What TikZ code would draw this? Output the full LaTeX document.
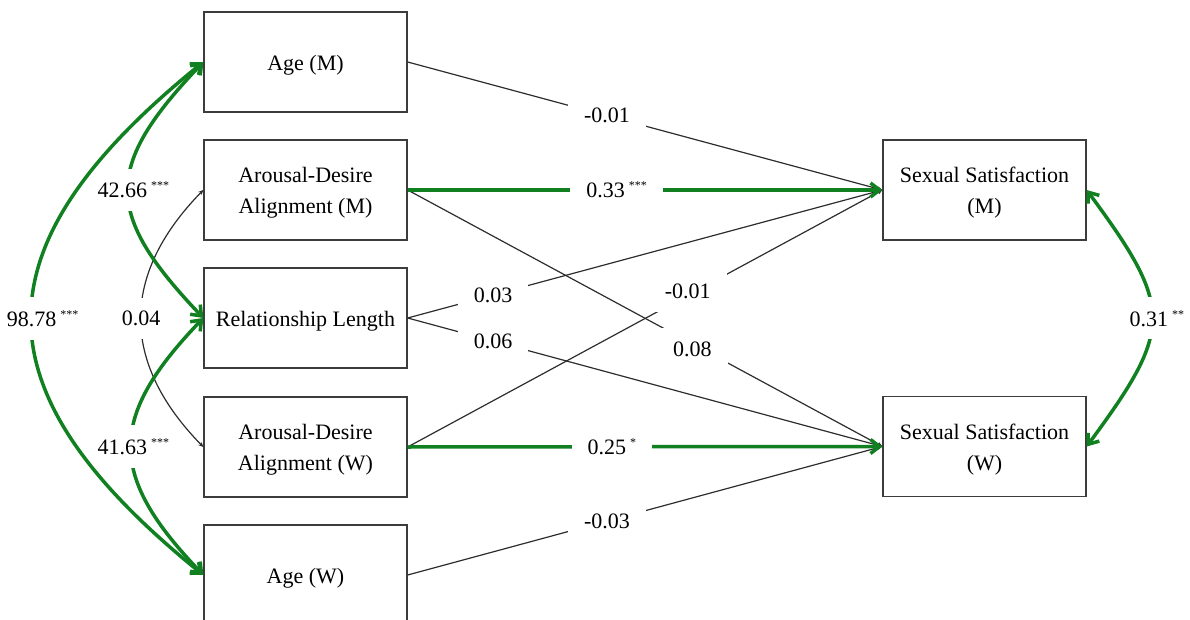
\documentclass[tikz,border=0pt]{standalone}
\usepackage{fontspec}
\setmainfont{Liberation Serif}
\usetikzlibrary{arrows.meta}
\definecolor{sgreen}{RGB}{16,128,32}
\definecolor{boxgray}{RGB}{60,60,60}
\definecolor{linegray}{RGB}{45,45,45}
\newcommand{\stars}[1]{\hspace{4pt}\raisebox{8pt}{\fontsize{12}{12}\selectfont #1}}
\begin{document}
\begin{tikzpicture}[x=1pt,y=-1pt,
  box/.style={draw=boxgray, line width=1.3pt, minimum width=203pt, minimum height=100pt,
    inner sep=0pt},
  boxtext/.style={align=center, inner sep=0pt, yshift=-3pt, font=\fontsize{22}{31}\selectfont},
  blk/.style={draw=linegray, line width=1.2pt, -{Stealth[length=5pt,width=4.5pt]}},
  blk2/.style={draw=linegray, line width=1.2pt, {Stealth[length=5pt,width=4.5pt]}-{Stealth[length=5pt,width=4.5pt]}},
  grn/.style={draw=sgreen, line width=3.5pt, -{Straight Barb[length=9pt,width=14pt]}},
  grn2/.style={draw=sgreen, line width=3.5pt, {Straight Barb[length=9pt,width=14pt]}-{Straight Barb[length=9pt,width=14pt]}},
  lbl/.style={fill=white, inner xsep=16pt, inner ysep=13pt, font=\fontsize{22}{26}\selectfont, text=black}
]
\useasboundingbox (0,0) rectangle (1190,620);
\clip (0,0) rectangle (1190,620);

% boxes
\node[box, label={[boxtext]center:Age (M)}] (agem) at (305.5,62) {};
\node[box, label={[boxtext]center:Arousal-Desire\\Alignment (M)}] (adm) at (305.5,190) {};
\node[box, label={[boxtext]center:Relationship Length}] (rl) at (305.5,318) {};
\node[box, label={[boxtext]center:Arousal-Desire\\Alignment (W)}] (adw) at (305.5,447) {};
\node[box, label={[boxtext]center:Age (W)}] (agew) at (305.5,575) {};
\node[box, label={[boxtext]center:Sexual Satisfaction\\(M)}] (ssm) at (984.5,190) {};
\node[box, label={[boxtext]center:Sexual Satisfaction\\(W)}] (ssw) at (984.5,446.5) {};

% regression paths
\draw[blk] (agem.east) -- node[lbl,pos=.42]{-0.01} (ssm.west);
\draw[blk] (adm.east) -- node[lbl,pos=.6,yshift=-5pt]{0.08} (ssw.west);
\draw[blk] (rl.east) -- node[lbl,pos=.18]{0.03} (ssm.west);
\draw[blk] (rl.east) -- node[lbl,pos=.18]{0.06} (ssw.west);
\draw[blk] (adw.east) -- node[lbl,pos=.59,yshift=4pt]{-0.01} (ssm.west);
\draw[blk] (agew.east) -- node[lbl,pos=.42]{-0.03} (ssw.west);
\draw[grn] (adm.east) -- node[lbl,pos=.44]{0.33\stars{***}} (ssm.west);
\draw[grn] (adw.east) -- node[lbl,pos=.43]{0.25\stars{*}} (ssw.west);

% covariances (left)
\draw[blk2] (adm.west) .. controls +(-83,85) and +(-83,-85) .. node[lbl,pos=.5]{0.04} (adw.west);
\draw[grn2] (agem.west) .. controls +(-100,105) and +(-100,-105) .. node[lbl,pos=.5,xshift=-6pt]{42.66\rlap{\stars{***}}} (rl.west);
\draw[grn2] (rl.west) .. controls +(-96,100) and +(-96,-100) .. node[lbl,pos=.5,xshift=-9pt]{41.63\rlap{\stars{***}}} (agew.west);
\draw[grn2] (agew.west) .. controls +(-229,-185) and +(-229,185) .. node[lbl,pos=.5]{98.78\rlap{\stars{***}}} (agem.west);

% covariance (right)
\draw[grn2] (ssm.east) .. controls +(87,118) and +(87,-118) .. node[lbl,pos=.5,xshift=-3pt]{0.31\rlap{\stars{**}}} (ssw.east);
\end{tikzpicture}
\end{document}
